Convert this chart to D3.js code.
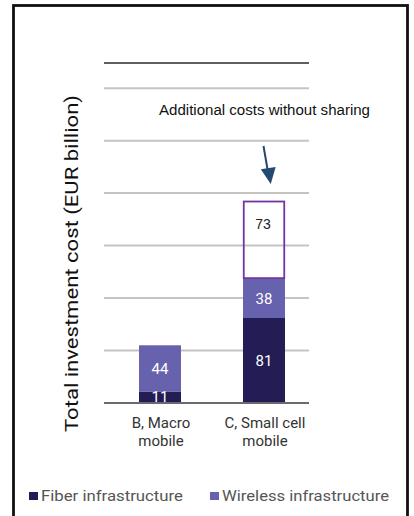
<!DOCTYPE html>
<html>
<head>
<meta charset="utf-8">
<script src="https://cdn.jsdelivr.net/npm/d3@7/dist/d3.min.js"></script>
<style>
  html, body { margin: 0; padding: 0; background: #fff; }
  svg { display: block; }
</style>
</head>
<body>
<svg id="chart" width="414" height="516"></svg>
<script>
// ---- data ----
const categories = ["B, Macro mobile", "C, Small cell mobile"];
const categoryLines = [["B, Macro", "mobile"], ["C, Small cell", "mobile"]];
const fiber = [11, 81];
const wireless = [44, 38];
const additional = [0, 73];
const gridTicks = [0, 50, 100, 150, 200, 250, 300];
const seriesNames = ["Fiber infrastructure", "Wireless infrastructure"];
const yTitle = "Total investment cost (EUR billion)";
const annotation = "Additional costs without sharing";

// ---- styles ----
const cFiber = "#231c55", cWireless = "#6762ad", cBox = "#7434a3";
const svg = d3.select("#chart");

// frame
svg.append("rect").attr("x", 13.5).attr("y", 5.5).attr("width", 394).attr("height", 520)
  .attr("fill", "none").attr("stroke", "#111").attr("stroke-width", 2.8);

const y = d3.scaleLinear().domain([0, 324]).range([403, 63]);
const x = d3.scalePoint().domain(categories).range([160, 264]);
const bw = 42;
const gx0 = 104, gx1 = 309;

// gridlines
svg.append("g").selectAll("line").data(gridTicks.filter(d => d > 0)).join("line")
  .attr("x1", gx0).attr("x2", gx1)
  .attr("y1", d => y(d)).attr("y2", d => y(d))
  .attr("stroke", "#c4c4c4").attr("stroke-width", 2);
// top line
svg.append("line").attr("x1", gx0).attr("x2", gx1).attr("y1", y(324)).attr("y2", y(324))
  .attr("stroke", "#5f5f63").attr("stroke-width", 2);

// bars
const rows = categories.map((c, i) => ({ c, f: fiber[i], w: wireless[i], a: additional[i] }));
const g = svg.append("g");
rows.forEach(r => {
  const cx = x(r.c);
  g.append("rect").attr("x", cx - bw / 2).attr("width", bw)
    .attr("y", y(r.f)).attr("height", y(0) - y(r.f)).attr("fill", cFiber);
  g.append("rect").attr("x", cx - bw / 2).attr("width", bw)
    .attr("y", y(r.f + r.w)).attr("height", y(r.f) - y(r.f + r.w)).attr("fill", cWireless);
  if (r.a > 0) {
    g.append("rect").attr("x", cx - bw / 2 + 0.75).attr("width", bw - 1.5)
      .attr("y", y(r.f + r.w + r.a)).attr("height", y(r.f + r.w) - y(r.f + r.w + r.a))
      .attr("fill", "none").attr("stroke", cBox).attr("stroke-width", 1.8);
    g.append("text").attr("x", cx - 1).attr("y", y(r.f + r.w + r.a) + 27)
      .attr("text-anchor", "middle").attr("font-family", "Liberation Sans, Arial")
      .attr("font-size", 14).attr("fill", "#222").text(r.a);
  }
  // labels
  const fy = r.f < 20 ? y(0) - 1 : (y(0) + y(r.f)) / 2 + 5;
  g.append("text").attr("x", cx).attr("y", fy)
    .attr("text-anchor", "middle").attr("font-family", "Roboto").attr("font-size", 15)
    .attr("fill", "#fff").text(r.f);
  g.append("text").attr("x", cx).attr("y", (y(r.f) + y(r.f + r.w)) / 2 + 6)
    .attr("text-anchor", "middle").attr("font-family", "Roboto").attr("font-size", 15)
    .attr("fill", "#fff").text(r.w);
});

// baseline
svg.append("line").attr("x1", gx0).attr("x2", gx1).attr("y1", y(0)).attr("y2", y(0))
  .attr("stroke", "#6a6a6e").attr("stroke-width", 2);

// category labels
categories.forEach((c, i) => {
  const t = svg.append("text").attr("text-anchor", "middle")
    .attr("font-family", "Roboto").attr("font-size", 15).attr("fill", "#333");
  categoryLines[i].forEach((ln, j) => {
    t.append("tspan").attr("x", x(c) + 1).attr("y", 428 + j * 18).text(ln);
  });
});

// y title
svg.append("text").attr("transform", "translate(78,263.5) rotate(-90)")
  .attr("text-anchor", "middle").attr("font-family", "Roboto").attr("font-size", 19)
  .attr("textLength", 337).attr("lengthAdjust", "spacingAndGlyphs")
  .attr("fill", "#111").text(yTitle);

// annotation
svg.append("text").attr("x", 264.5).attr("y", 115).attr("text-anchor", "middle")
  .attr("font-family", "Liberation Sans, Arial").attr("font-size", 14)
  .attr("textLength", 211).attr("lengthAdjust", "spacingAndGlyphs")
  .attr("fill", "#111").text(annotation);

// arrow
svg.append("line").attr("x1", 263.5).attr("y1", 146).attr("x2", 268.5).attr("y2", 175)
  .attr("stroke", "#244a70").attr("stroke-width", 2);
svg.append("path")
  .attr("d", "M262,168 L277,168 L269.5,184 Z").attr("fill", "#244a70")
  .attr("transform", "rotate(-9,269.5,176)");

// legend
const legX = [29, 210];
const legW = [142, 167];
seriesNames.forEach((s, i) => {
  svg.append("rect").attr("x", legX[i]).attr("y", 492).attr("width", 9).attr("height", 8)
    .attr("fill", i === 0 ? cFiber : cWireless);
  svg.append("text").attr("x", legX[i] + 12).attr("y", 501)
    .attr("font-family", "Roboto").attr("font-size", 15).attr("fill", "#555")
    .attr("textLength", legW[i]).attr("lengthAdjust", "spacingAndGlyphs")
    .text(s);
});
</script>
</body>
</html>
